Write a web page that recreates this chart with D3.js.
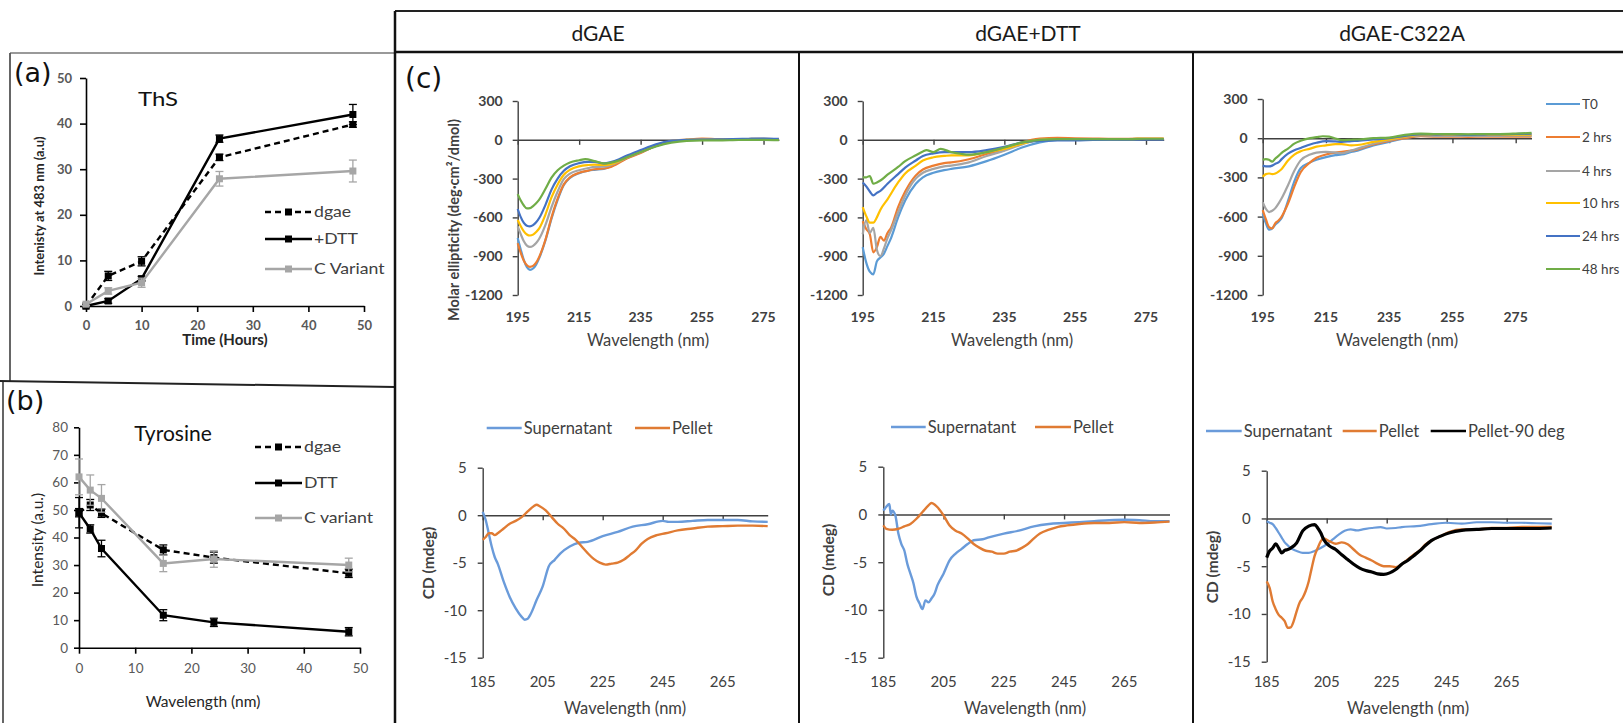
<!DOCTYPE html>
<html><head><meta charset="utf-8">
<script src="https://cdn.jsdelivr.net/npm/d3@7"></script>
<style>
html,body{margin:0;padding:0;background:#fff;}
svg{display:block;}
</style></head><body>
<svg id="chart" width="1623" height="723"></svg>
<script>
// ---------------- DATA ----------------
// Panel (a) ThS
const thsHours = [0, 4, 10, 24, 48];
const thsDgae = [0, 6.6, 9.8, 32.6, 39.8];
const thsDgaeErr = [0.3, 1.0, 1.0, 0.7, 0.6];
const thsDTT = [0, 1.1, 6.0, 36.7, 42.0];
const thsDTTErr = [0.2, 0.5, 0.5, 0.8, 2.2];
const thsCVar = [0.4, 3.3, 5.1, 27.9, 29.6];
const thsCVarErr = [0.3, 0.7, 1.0, 1.6, 2.4];
const thsLegend = ["dgae", "+DTT", "C Variant"];
const thsXTicks = [0, 10, 20, 30, 40, 50];
const thsYTicks = [0, 10, 20, 30, 40, 50];

// Panel (b) Tyrosine
const tyrHours = [0, 2, 4, 15, 24, 48];
const tyrDgae = [49, 51.8, 48.8, 35.5, 32.7, 27.0];
const tyrDgaeErr = [5.5, 2.0, 1.5, 1.8, 2.0, 1.5];
const tyrDTT = [49, 43.1, 36.0, 11.8, 9.2, 5.8];
const tyrDTTErr = [1.5, 1.5, 3.0, 2.0, 1.5, 1.5];
const tyrCVar = [62, 57.2, 54.2, 30.6, 32.2, 30.0];
const tyrCVarErr = [6.5, 5.5, 5.0, 3.0, 3.0, 2.5];
const tyrLegend = ["dgae", "DTT", "C variant"];
const tyrXTicks = [0, 10, 20, 30, 40, 50];
const tyrYTicks = [0, 10, 20, 30, 40, 50, 60, 70, 80];

// Panel (c) shared labels / ticks
const panelTitles = ["dGAE", "dGAE+DTT", "dGAE-C322A"];
const timeLabels = ["T0", "2 hrs", "4 hrs", "10 hrs", "24 hrs", "48 hrs"];
const fractionLabels = ["Supernatant", "Pellet", "Pellet-90 deg"];
const topXTicks = [195, 215, 235, 255, 275];
const topYTicks = [300, 0, -300, -600, -900, -1200];
const botXTicks = [185, 205, 225, 245, 265];
const botYTicks = [5, 0, -5, -10, -15];

// Top row: molar ellipticity, [wavelength nm, value]
const dgaeT0 = [[195,-760],[196,-850],[197,-930],[198,-985],[199,-1005],[200,-995],[201,-965],[202,-915],[204,-780],[206,-610],[208,-465],[210,-350],[212,-295],[215,-258],[218,-238],[220,-232],[223,-225],[225,-208],[228,-172],[230,-148],[235,-98],[240,-48],[245,-14],[250,-2],[255,0],[260,2],[265,0],[270,4],[275,8],[280,5]];
const dgae2h = [[195,-800],[196,-875],[197,-935],[198,-970],[199,-982],[200,-975],[201,-950],[202,-905],[204,-775],[206,-600],[208,-455],[210,-345],[212,-290],[215,-255],[218,-238],[220,-228],[223,-222],[225,-212],[228,-178],[230,-150],[235,-102],[240,-46],[245,-10],[250,2],[255,10],[260,5],[265,3],[270,6],[275,8],[280,6]];
const dgae4h = [[195,-670],[196,-730],[197,-785],[198,-818],[199,-828],[200,-820],[201,-798],[202,-765],[204,-660],[206,-520],[208,-400],[210,-305],[212,-262],[215,-235],[218,-218],[220,-210],[223,-208],[225,-198],[228,-168],[230,-143],[235,-95],[240,-45],[245,-12],[250,0],[255,2],[260,2],[265,2],[270,5],[275,5],[280,5]];
const dgae10h = [[195,-620],[196,-668],[197,-708],[198,-732],[199,-740],[200,-733],[201,-713],[202,-685],[204,-580],[206,-445],[208,-345],[210,-270],[212,-232],[215,-205],[218,-195],[220,-192],[223,-195],[225,-190],[228,-163],[230,-140],[235,-90],[240,-45],[245,-12],[250,0],[255,0],[260,2],[265,2],[270,5],[275,5],[280,5]];
const dgae24h = [[195,-535],[196,-598],[197,-643],[198,-665],[199,-670],[200,-660],[201,-638],[202,-605],[204,-505],[206,-385],[208,-300],[210,-240],[212,-205],[215,-180],[218,-170],[220,-170],[223,-182],[225,-175],[228,-150],[230,-128],[235,-80],[240,-35],[245,-8],[250,0],[255,2],[260,3],[265,5],[270,8],[275,10],[280,8]];
const dgae48h = [[195,-420],[196,-470],[197,-508],[198,-530],[199,-528],[200,-512],[201,-490],[202,-462],[204,-380],[206,-292],[208,-235],[210,-200],[212,-175],[215,-158],[217,-150],[220,-165],[223,-182],[225,-178],[228,-160],[230,-140],[235,-95],[240,-52],[245,-22],[250,-8],[255,-5],[260,-5],[265,-3],[270,0],[275,0],[280,-2]];

const dttT0 = [[195,-830],[196,-950],[197,-1020],[198,-1040],[199,-940],[200,-910],[201,-880],[202,-820],[203,-760],[205,-600],[207,-470],[210,-340],[212,-290],[215,-255],[218,-235],[220,-225],[225,-205],[230,-165],[235,-115],[240,-60],[245,-20],[250,0],[255,0],[260,2],[265,2],[270,3],[275,5],[280,5]];
const dtt2h = [[195,-630],[196,-690],[197,-730],[198,-870],[199,-830],[200,-750],[201,-780],[202,-720],[203,-680],[205,-520],[207,-400],[210,-275],[212,-230],[215,-200],[218,-180],[220,-175],[225,-150],[230,-110],[235,-80],[240,-20],[245,10],[250,15],[255,12],[260,10],[265,8],[270,8],[275,10],[280,10]];
const dtt4h = [[195,-730],[196,-620],[197,-720],[198,-680],[199,-850],[200,-900],[201,-840],[202,-760],[203,-700],[205,-560],[207,-430],[210,-300],[212,-255],[215,-225],[218,-205],[220,-200],[225,-175],[230,-125],[235,-85],[240,-35],[245,0],[250,5],[255,5],[260,5],[265,5],[270,5],[275,5],[280,5]];
const dtt10h = [[195,-520],[196,-590],[197,-640],[198,-640],[199,-600],[200,-540],[202,-460],[205,-330],[207,-260],[210,-200],[212,-160],[215,-135],[218,-125],[220,-120],[225,-120],[230,-95],[235,-70],[240,-30],[245,0],[250,5],[255,5],[260,5],[265,5],[270,5],[275,8],[280,8]];
const dtt24h = [[195,-330],[196,-360],[197,-400],[198,-430],[199,-410],[200,-395],[202,-340],[205,-265],[207,-215],[210,-160],[212,-125],[215,-105],[218,-95],[220,-95],[225,-95],[230,-80],[235,-55],[240,-20],[245,-8],[250,-5],[255,-5],[260,0],[265,2],[270,2],[275,3],[280,3]];
const dtt48h = [[195,-290],[196,-290],[197,-280],[198,-340],[199,-330],[200,-315],[202,-270],[205,-210],[207,-165],[210,-120],[212,-90],[213,-80],[215,-95],[217,-70],[220,-95],[223,-110],[225,-115],[230,-95],[235,-60],[240,-20],[245,0],[250,5],[255,5],[260,5],[265,5],[270,5],[275,8],[280,8]];

const mutT0 = [[195,-575],[196,-650],[197,-700],[198,-690],[199,-660],[200,-640],[201,-610],[203,-480],[205,-330],[207,-230],[210,-185],[212,-165],[215,-145],[218,-130],[220,-125],[223,-105],[225,-95],[230,-55],[235,-28],[240,0],[245,17],[250,15],[255,15],[260,15],[265,18],[270,18],[275,20],[280,22]];
const mut2h = [[195,-550],[196,-620],[197,-680],[198,-690],[199,-650],[200,-630],[201,-600],[203,-500],[205,-370],[207,-260],[210,-185],[212,-150],[215,-125],[218,-110],[220,-105],[223,-95],[225,-85],[230,-48],[235,-20],[240,0],[245,15],[250,12],[255,12],[260,10],[265,12],[270,12],[275,12],[280,12]];
const mut4h = [[195,-490],[196,-540],[197,-565],[198,-555],[199,-535],[200,-500],[201,-460],[203,-360],[205,-250],[207,-170],[210,-125],[212,-110],[215,-105],[218,-110],[220,-115],[223,-95],[225,-80],[230,-42],[235,-15],[240,10],[245,22],[250,18],[255,18],[260,18],[265,18],[270,18],[275,20],[280,20]];
const mut10h = [[195,-295],[196,-275],[197,-270],[198,-275],[199,-270],[200,-255],[201,-235],[203,-170],[205,-125],[207,-100],[210,-80],[212,-65],[215,-55],[218,-45],[220,-45],[223,-55],[225,-52],[230,-28],[235,-10],[240,12],[245,25],[250,25],[255,25],[260,25],[265,25],[270,25],[275,28],[280,28]];
const mut24h = [[195,-210],[196,-215],[197,-215],[198,-210],[199,-195],[200,-185],[201,-160],[203,-118],[205,-92],[207,-75],[210,-48],[212,-35],[215,-22],[218,-25],[220,-28],[223,-22],[225,-20],[230,-10],[235,0],[240,18],[245,30],[250,28],[255,30],[260,25],[265,28],[270,30],[275,32],[280,35]];
const mut48h = [[195,-165],[196,-160],[197,-165],[198,-180],[199,-155],[200,-135],[201,-112],[203,-80],[205,-42],[207,-20],[210,0],[212,8],[214,15],[216,12],[218,-2],[220,-15],[223,-12],[225,-10],[230,0],[235,5],[240,25],[245,35],[250,32],[255,32],[260,30],[265,32],[270,32],[275,35],[280,40]];

// Bottom row: CD (mdeg), [wavelength nm, value]
const dgaeSup = [[185,0.35],[186,-0.5],[187,-1.9],[188,-3.3],[189,-4.4],[190,-5.1],[192,-7.0],[194,-8.6],[196,-9.8],[198,-10.7],[199,-11.0],[200,-10.9],[201,-10.4],[203,-8.9],[205,-7.5],[207,-5.4],[209,-4.7],[211,-4.0],[214,-3.3],[217,-2.9],[220,-2.8],[225,-2.2],[230,-1.75],[235,-1.2],[240,-0.95],[245,-0.6],[247,-0.7],[250,-0.7],[255,-0.6],[260,-0.5],[265,-0.5],[270,-0.5],[275,-0.65],[280,-0.7]];
const dgaePel = [[185,-2.6],[186,-2.3],[187,-1.9],[188,-1.9],[189,-2.1],[190,-1.9],[192,-1.4],[194,-0.9],[196,-0.6],[198,-0.2],[200,0.4],[202,0.95],[203,1.1],[204,0.95],[206,0.5],[208,-0.2],[210,-0.9],[212,-1.4],[214,-2.1],[216,-2.6],[218,-3.3],[220,-4.0],[222,-4.6],[224,-5.0],[226,-5.2],[228,-5.1],[230,-5.0],[232,-4.7],[234,-4.2],[236,-3.7],[238,-3.0],[240,-2.5],[243,-2.1],[246,-1.9],[250,-1.6],[255,-1.4],[260,-1.2],[265,-1.15],[270,-1.1],[275,-1.1],[280,-1.15]];
const dttSup = [[185,0.4],[186,0.8],[187,1.1],[187.5,0],[188,0.4],[189,-0.1],[190,-2.0],[191,-3.1],[192,-3.8],[193,-5.2],[194,-6.2],[195,-7.2],[196,-8.6],[197,-9.3],[198,-9.9],[199,-9.0],[200,-9.2],[201,-8.8],[202,-8.3],[203,-7.4],[205,-6.2],[207,-4.8],[209,-4.1],[211,-3.6],[213,-3.1],[215,-2.7],[218,-2.6],[220,-2.4],[225,-2.0],[230,-1.7],[235,-1.25],[240,-1.0],[245,-0.9],[250,-0.8],[255,-0.7],[260,-0.6],[265,-0.55],[270,-0.6],[275,-0.7],[280,-0.7]];
const dttPel = [[185,-1.15],[186,-1.5],[188,-1.6],[190,-1.5],[192,-1.25],[194,-1.0],[196,-0.45],[198,0.25],[200,0.95],[201,1.2],[202,1.05],[203,0.75],[205,-0.1],[207,-1.15],[209,-1.7],[211,-2.0],[213,-2.5],[215,-3.1],[217,-3.5],[219,-3.8],[221,-3.9],[223,-4.1],[225,-4.1],[227,-3.9],[229,-3.8],[231,-3.5],[233,-3.1],[235,-2.5],[237,-2.0],[240,-1.6],[243,-1.3],[246,-1.15],[250,-1.0],[255,-0.9],[260,-0.9],[265,-0.8],[270,-0.9],[275,-0.85],[280,-0.75]];
const mutSup = [[185,-0.3],[186,-0.45],[187,-0.6],[188,-1.0],[189,-1.5],[190,-2.0],[191,-2.5],[192,-2.8],[193,-3.1],[195,-3.4],[197,-3.6],[199,-3.6],[201,-3.4],[203,-3.1],[205,-2.7],[207,-2.2],[209,-1.7],[211,-1.3],[213,-1.15],[215,-1.25],[217,-1.15],[220,-1.0],[223,-0.9],[225,-1.05],[228,-1.0],[230,-0.9],[235,-0.8],[240,-0.6],[245,-0.45],[250,-0.55],[255,-0.4],[260,-0.4],[265,-0.45],[270,-0.45],[275,-0.5],[280,-0.55]];
const mutPel = [[185,-6.6],[186,-7.3],[187,-8.7],[188,-9.5],[189,-10.1],[190,-10.4],[191,-10.75],[192,-11.45],[193,-11.4],[194,-10.75],[195,-9.7],[196,-8.8],[197,-8.3],[198,-7.6],[199,-6.6],[200,-5.2],[201,-3.9],[202,-3.1],[203,-2.4],[204,-2.1],[206,-2.4],[208,-2.65],[210,-2.5],[212,-2.7],[214,-3.25],[216,-3.8],[218,-4.1],[220,-4.4],[222,-4.75],[224,-5.0],[226,-5.0],[228,-5.1],[230,-4.8],[232,-4.3],[234,-3.8],[236,-3.35],[238,-2.7],[240,-2.3],[243,-1.85],[246,-1.4],[250,-1.15],[255,-1.15],[260,-1.0],[265,-1.0],[270,-0.9],[275,-0.9],[280,-0.9]];
const mutPel90 = [[185,-4.1],[186,-3.4],[187,-3.1],[188,-2.65],[189,-3.1],[190,-3.6],[191,-3.35],[192,-3.25],[193,-3.1],[195,-2.55],[197,-1.3],[199,-0.8],[201,-0.65],[202,-1.0],[203,-1.5],[204,-2.2],[206,-2.9],[208,-3.25],[210,-3.8],[212,-4.3],[214,-4.8],[216,-5.2],[218,-5.45],[220,-5.6],[222,-5.8],[224,-5.85],[226,-5.7],[228,-5.35],[230,-4.8],[232,-4.4],[234,-3.9],[236,-3.4],[238,-2.8],[240,-2.3],[243,-1.85],[246,-1.5],[250,-1.25],[255,-1.15],[260,-1.05],[265,-1.05],[270,-1.05],[275,-1.05],[280,-1.0]];

// ---------------- DRAWING ----------------
const svg = d3.select("#chart");
const F = "Lato, 'Open Sans', sans-serif";
const TXT = "#404040";
const cdColors = ["#5B9BD5", "#ED7D31", "#A5A5A5", "#FFC000", "#4472C4", "#70AD47"];
const fracColors = ["#6A9BDA", "#E07B33", "#000000"];

function label(g, x, y, str, o = {}) {
  const t = g.append("text").attr("x", x).attr("y", y).text(str)
    .attr("font-family", o.family || F).attr("font-size", o.size || 14)
    .attr("font-weight", o.weight || "normal").attr("fill", o.fill || TXT)
    .attr("text-anchor", o.anchor || "start");
  if (o.rotate) t.attr("transform", `rotate(-90,${x},${y})`);
  else if (o.sx) t.attr("transform", `translate(${x},${y}) scale(${o.sx},1) translate(${-x},${-y})`);
  return t;
}
function line(g, x1, y1, x2, y2, c, w) {
  return g.append("line").attr("x1", x1).attr("y1", y1).attr("x2", x2).attr("y2", y2)
    .attr("stroke", c).attr("stroke-width", w);
}

// frame lines
const frame = svg.append("g");
line(frame, 10, 53, 395, 53, "#777", 1.5);
line(frame, 10, 53, 10, 381, "#555", 1.8);
line(frame, 3, 381, 3, 723, "#555", 1.8);
line(frame, 0, 381, 395, 387, "#222", 2);
line(frame, 395, 11, 1623, 11, "#222", 2);
line(frame, 395, 52, 1623, 52, "#111", 2.5);
line(frame, 395, 11, 395, 723, "#111", 2.5);
line(frame, 799, 52, 799, 723, "#111", 2);
line(frame, 1193, 52, 1193, 723, "#111", 2);

// headers
[[598, 41], [1028, 41], [1402, 41]].forEach((p, i) =>
  label(svg, p[0], p[1], panelTitles[i], {size: 21, anchor: "middle", fill: "#1a1a1a"}));

// ---------- time-course panels (a) and (b) ----------
function timePanel(cfg) {
  const g = svg.append("g");
  const x = d3.scaleLinear().domain([0, 50]).range(cfg.xr);
  const y = d3.scaleLinear().domain(cfg.yd).range(cfg.yr);
  const xa = g.append("g").attr("transform", `translate(0,${y(0)})`)
    .call(d3.axisBottom(x).tickValues(cfg.xt).tickSize(6).tickSizeOuter(0).tickPadding(cfg.xPad));
  const ya = g.append("g").attr("transform", `translate(${x(0)},0)`)
    .call(d3.axisLeft(y).tickValues(cfg.yt).tickSize(cfg.ytSize).tickSizeOuter(0).tickPadding(cfg.yPad));
  [xa, ya].forEach(a => {
    a.selectAll("path,line").attr("stroke", "#000").attr("stroke-width", 1.6);
    a.selectAll("text").attr("font-family", F).attr("font-size", cfg.tickSize)
      .attr("font-weight", cfg.tickWeight).attr("fill", "#595959");
  });
  cfg.series.forEach(s => {
    const pts = s.xs.map((h, i) => [h, s.ys[i], s.es[i]]);
    g.append("path").datum(pts)
      .attr("d", d3.line().x(d => x(d[0])).y(d => y(d[1])))
      .attr("fill", "none").attr("stroke", s.color).attr("stroke-width", 2.4)
      .attr("stroke-dasharray", s.dash ? "6,4" : null);
    pts.forEach(d => {
      const cx = x(d[0]), y1 = y(d[1] - d[2]), y2 = y(d[1] + d[2]);
      line(g, cx, y1, cx, y2, s.color, 1.3);
      line(g, cx - 4, y1, cx + 4, y1, s.color, 1.3);
      line(g, cx - 4, y2, cx + 4, y2, s.color, 1.3);
      g.append("rect").attr("x", cx - 3.5).attr("y", y(d[1]) - 3.5).attr("width", 7).attr("height", 7).attr("fill", s.color);
    });
  });
  // legend
  cfg.series.forEach((s, i) => {
    const ly = cfg.legY[i];
    const l = line(g, cfg.legX[0], ly, cfg.legX[1], ly, s.color, 2.4);
    if (s.dash) l.attr("stroke-dasharray", "6,4");
    g.append("rect").attr("x", (cfg.legX[0] + cfg.legX[1]) / 2 - 3.5).attr("y", ly - 3.5).attr("width", 7).attr("height", 7).attr("fill", s.color);
    label(g, cfg.legX[1] + 2, ly + 5, cfg.legText[i], {size: 14.5, sx: 1.22});
  });
  return {g, x, y};
}

const pa = timePanel({
  xr: [86, 364], yd: [0, 50], yr: [306, 78], xt: thsXTicks, yt: thsYTicks,
  xPad: 9, yPad: 8, ytSize: 6, tickSize: 13, tickWeight: "bold",
  series: [
    {xs: thsHours, ys: thsDgae, es: thsDgaeErr, color: "#000", dash: true},
    {xs: thsHours, ys: thsDTT, es: thsDTTErr, color: "#000", dash: false},
    {xs: thsHours, ys: thsCVar, es: thsCVarErr, color: "#A6A6A6", dash: false}
  ],
  legX: [265, 312], legY: [212, 239, 269], legText: thsLegend
});
label(pa.g, 14, 82, "(a)", {family: "'DejaVu Sans', sans-serif", size: 27, fill: "#111"});
label(pa.g, 138, 106, "ThS", {size: 20, fill: "#111", sx: 1.2});
label(pa.g, 225, 345, "Time (Hours)", {size: 15, weight: "bold", anchor: "middle", fill: "#262626"});
label(pa.g, 44, 206, "Intenisty at 483 nm (a.u)", {size: 13, weight: "bold", anchor: "middle", fill: "#262626", rotate: true});

const pb = timePanel({
  xr: [79, 360], yd: [0, 80], yr: [647.7, 427.3], xt: tyrXTicks, yt: tyrYTicks,
  xPad: 10, yPad: 6, ytSize: 5, tickSize: 13.5, tickWeight: "normal",
  series: [
    {xs: tyrHours, ys: tyrDgae, es: tyrDgaeErr, color: "#000", dash: true},
    {xs: tyrHours, ys: tyrDTT, es: tyrDTTErr, color: "#000", dash: false},
    {xs: tyrHours, ys: tyrCVar, es: tyrCVarErr, color: "#A6A6A6", dash: false}
  ],
  legX: [255, 302], legY: [447, 483, 518], legText: tyrLegend
});
label(pb.g, 6, 410, "(b)", {family: "'DejaVu Sans', sans-serif", size: 27, fill: "#111"});
label(pb.g, 173, 441, "Tyrosine", {size: 21, anchor: "middle", fill: "#111"});
label(pb.g, 203, 707, "Wavelength (nm)", {size: 15.5, anchor: "middle", fill: "#262626"});
label(pb.g, 43, 540, "Intensity (a.u.)", {size: 15.5, anchor: "middle", fill: "#262626", rotate: true});

// ---------- CD panels (c) ----------
function cdPanel(cfg) {
  const g = svg.append("g");
  const x = d3.scaleLinear().domain(cfg.xd).range(cfg.xr);
  const y = d3.scaleLinear().domain(cfg.yd).range(cfg.yr);
  const ya = g.append("g").attr("transform", `translate(${x(cfg.xd[0])},0)`)
    .call(d3.axisLeft(y).tickValues(cfg.yt).tickSize(5).tickSizeOuter(0).tickPadding(cfg.yPad).tickFormat(d => String(d)));
  const xa = g.append("g").attr("transform", `translate(0,${y(0)})`)
    .call(d3.axisBottom(x).tickValues(cfg.xt).tickSize(5).tickSizeOuter(0).tickFormat(() => ""));
  [xa, ya].forEach(a => a.selectAll("path,line").attr("stroke", "#404040").attr("stroke-width", 1.4));
  ya.selectAll("text").attr("font-family", F).attr("font-size", cfg.tickSize)
    .attr("font-weight", cfg.tickWeight).attr("fill", TXT);
  g.append("g").selectAll("text").data(cfg.xt).join("text")
    .attr("x", d => x(d)).attr("y", cfg.xLabY).attr("text-anchor", "middle")
    .attr("font-family", F).attr("font-size", cfg.tickSize).attr("font-weight", cfg.tickWeight)
    .attr("fill", TXT).text(d => d);
  const ln = d3.line().x(d => x(d[0])).y(d => y(d[1])).curve(d3.curveMonotoneX);
  cfg.series.forEach((s, i) => {
    g.append("path").datum(s).attr("d", ln).attr("fill", "none")
      .attr("stroke", cfg.colors[i]).attr("stroke-width", cfg.widths[i])
      .attr("stroke-linejoin", "round");
  });
  label(g, cfg.titleX, cfg.titleY, "Wavelength (nm)", {size: 16.5, anchor: "middle"});
  return {g, x, y};
}

const topCommon = {xd: [195, 280], yd: [300, -1200], xt: topXTicks, yt: topYTicks,
  yPad: 10, tickSize: 14, tickWeight: "bold", xLabY: 322, titleY: 346,
  colors: cdColors, widths: [2.2, 2.2, 2.2, 2.2, 2.2, 2.2]};
const t1 = cdPanel(Object.assign({}, topCommon, {xr: [517.7, 778.9], yr: [101, 295], titleX: 648,
  series: [dgaeT0, dgae2h, dgae4h, dgae10h, dgae24h, dgae48h]}));
const t2 = cdPanel(Object.assign({}, topCommon, {xr: [862.7, 1163.7], yr: [101, 295], titleX: 1012,
  series: [dttT0, dtt2h, dtt4h, dtt10h, dtt24h, dtt48h]}));
const t3 = cdPanel(Object.assign({}, topCommon, {xr: [1262.7, 1531.5], yr: [99, 295], titleX: 1397,
  series: [mutT0, mut2h, mut4h, mut10h, mut24h, mut48h]}));
label(t1.g, 459, 220, "Molar ellipticity (deg·cm²/dmol)", {size: 14.5, weight: "bold", anchor: "middle", rotate: true});
label(t1.g, 405, 88, "(c)", {family: "'DejaVu Sans', sans-serif", size: 28, fill: "#111"});
// time legend
timeLabels.forEach((t, i) => {
  const ly = [104, 137, 171, 203, 236, 269][i];
  line(t3.g, 1546, ly, 1580, ly, cdColors[i], 2.2);
  label(t3.g, 1582, ly + 5, t, {size: 13.5});
});

const botCommon = {xd: [185, 280], yd: [5, -15], xt: botXTicks, yt: botYTicks,
  yPad: 11, tickSize: 15, tickWeight: "normal", xLabY: 687, titleY: 714};
const b1 = cdPanel(Object.assign({}, botCommon, {xr: [482.7, 767.7], yr: [467.7, 657.7], titleX: 625,
  series: [dgaeSup, dgaePel], colors: fracColors, widths: [2.4, 2.4]}));
const b2 = cdPanel(Object.assign({}, botCommon, {xr: [883.3, 1169.5], yr: [466.7, 657.7], titleX: 1025,
  series: [dttSup, dttPel], colors: fracColors, widths: [2.4, 2.4]}));
const b3 = cdPanel(Object.assign({}, botCommon, {xr: [1266.7, 1551.7], yr: [470.7, 661.7], titleX: 1408,
  series: [mutSup, mutPel, mutPel90], colors: fracColors, widths: [2.2, 2.4, 3.2]}));
[[b1, 434, 563], [b2, 834, 560], [b3, 1218, 567]].forEach(p =>
  label(p[0].g, p[1], p[2], "CD (mdeg)", {size: 15.5, weight: "bold", anchor: "middle", rotate: true}));

// fraction legends
function fracLegend(g, items) {
  items.forEach(it => {
    line(g, it[0], it[2], it[1], it[2], fracColors[it[3]], 2.6);
    label(g, it[1] + 2, it[2] + 5.5, fractionLabels[it[3]], {size: 16.5});
  });
}
fracLegend(b1.g, [[486.7, 521.7, 428, 0], [635, 670, 428, 1]]);
fracLegend(b2.g, [[891, 925.7, 427, 0], [1035, 1071, 427, 1]]);
fracLegend(b3.g, [[1206, 1241.7, 431, 0], [1342.7, 1376.7, 431, 1], [1430.7, 1466, 431, 2]]);
</script>
</body></html>
